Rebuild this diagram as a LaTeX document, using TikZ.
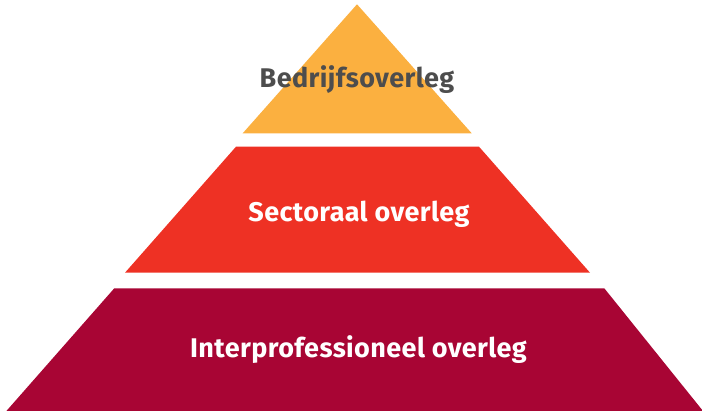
\documentclass[tikz,border=0pt]{standalone}
\usepackage{fontspec}
\newfontfamily\labelfont{Fira Sans}[LetterSpace=1.5]
\usetikzlibrary{positioning}

\definecolor{geel}{HTML}{FBB040}
\definecolor{rood}{HTML}{EE3124}
\definecolor{bordeaux}{HTML}{A80534}
\definecolor{grijs}{HTML}{4D4D4D}

\begin{document}
\begin{tikzpicture}[x=1pt, y=1pt,
    band/.style={draw=none},
    tag/.style={anchor=base, inner sep=0pt, font=\labelfont\bfseries\fontsize{27}{31}\selectfont},
    toptag/.style={tag, text=grijs},
    lowtag/.style={tag, text=white}
]
\useasboundingbox (0,0) rectangle (702,411);

\fill [band, fill=geel] (357,406.7) -- (471.7,277.7) -- (242.7,277.7) -- cycle;
\fill [band, fill=rood] (236,264.3) -- (479,264.3) -- (590,138.3) -- (125,138.3) -- cycle;
\fill [band, fill=bordeaux] (114.3,122.7) -- (604.3,122.7) -- (703,0) -- (6.4,0) -- cycle;

\node [toptag] (bedrijf) at (357,323.3) {Bedrijfsoverleg};
\node [lowtag] (sector) at (359,189) {Sectoraal overleg};
\node [lowtag] (inter) at (358.5,53) {Interprofessioneel overleg};

\end{tikzpicture}
\end{document}
